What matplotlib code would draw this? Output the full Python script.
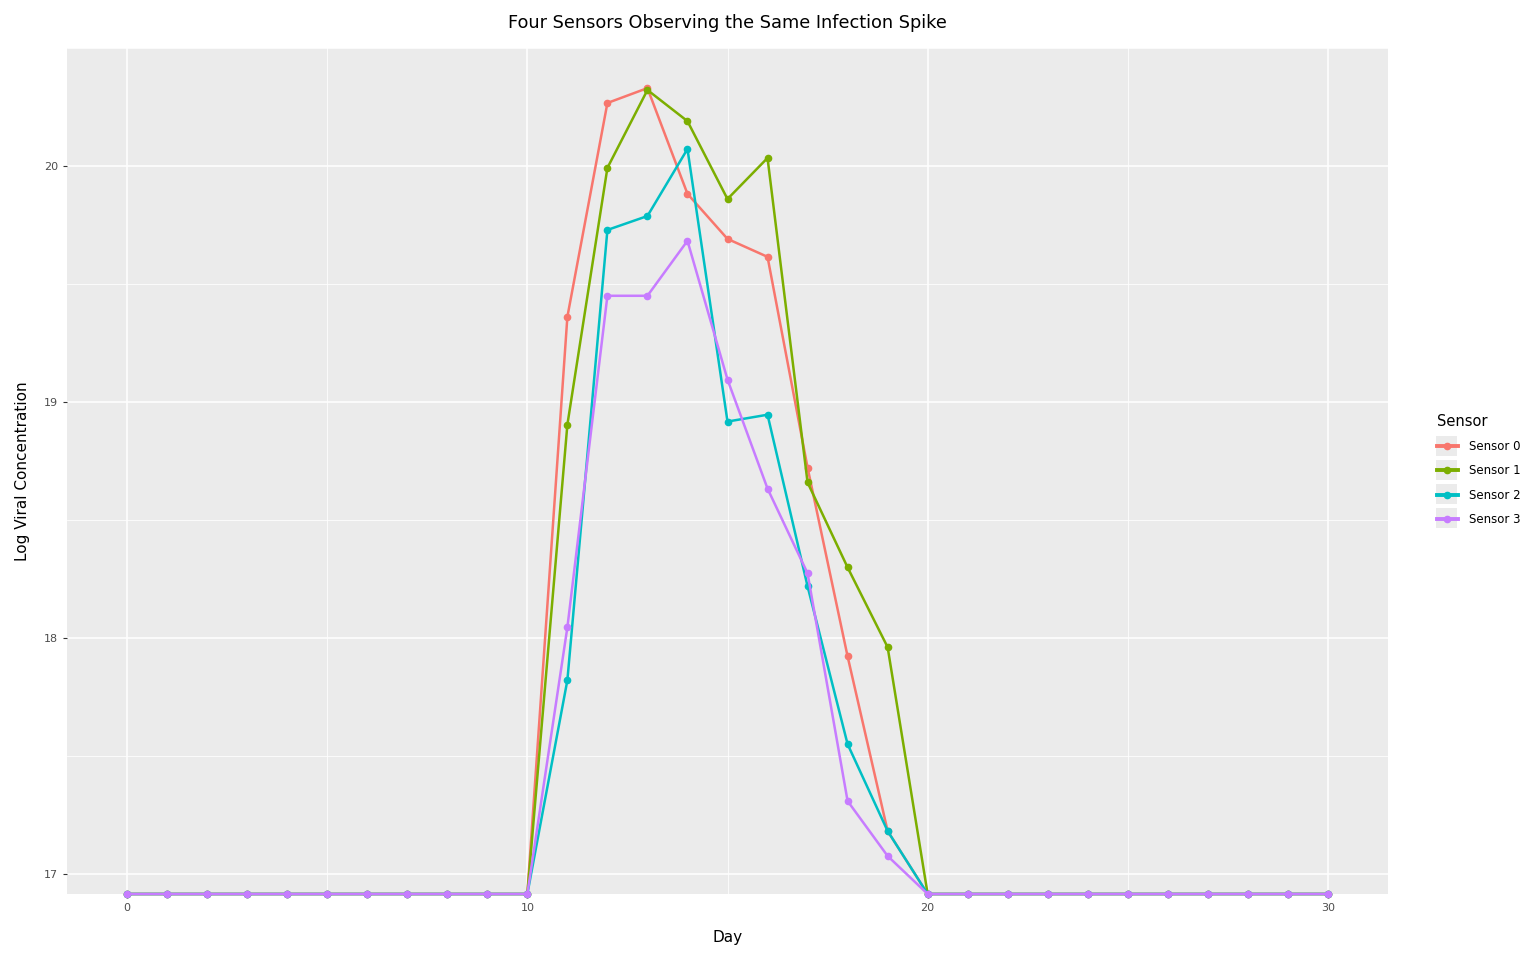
import matplotlib
matplotlib.use("Agg")
import matplotlib.pyplot as plt
from matplotlib.patches import Rectangle
from matplotlib.ticker import MultipleLocator

days = list(range(31))
baseline = 16.915
sensor_names = ["Sensor 0", "Sensor 1", "Sensor 2", "Sensor 3"]
colors = ["#F8766D", "#7CAE00", "#00BFC4", "#C77CFF"]

spike_s0 = [19.361, 20.267, 20.330, 19.882, 19.691, 19.615, 18.722, 17.922, 17.182]
spike_s1 = [18.904, 19.992, 20.322, 20.190, 19.860, 20.034, 18.659, 18.299, 17.961]
spike_s2 = [17.821, 19.729, 19.788, 20.072, 18.917, 18.946, 18.219, 17.550, 17.182]
spike_s3 = [18.045, 19.450, 19.450, 19.683, 19.095, 18.633, 18.274, 17.309, 17.076]

def full(spike):
    return [baseline] * 11 + spike + [baseline] * 11

series = [full(spike_s0), full(spike_s1), full(spike_s2), full(spike_s3)]

fig = plt.figure(figsize=(15.36, 9.6), dpi=100)
ax = fig.add_axes([67/1536, 1-894/960, (1388-67)/1536, (894-48)/960])
ax.set_facecolor("#EBEBEB")
for s in ax.spines.values():
    s.set_visible(False)

ax.xaxis.set_major_locator(MultipleLocator(10))
ax.xaxis.set_minor_locator(MultipleLocator(5))
ax.yaxis.set_major_locator(MultipleLocator(1))
ax.yaxis.set_minor_locator(MultipleLocator(0.5))
ax.grid(which="major", color="white", linewidth=1.1)
ax.grid(which="minor", color="white", linewidth=0.55)
ax.set_axisbelow(True)
ax.tick_params(which="major", length=3, color="#333333", labelcolor="#4D4D4D", labelsize=8, width=0.8)
ax.tick_params(which="minor", length=0)

handles = []
for name, ys, c in zip(sensor_names, series, colors):
    h, = ax.plot(days, ys, color=c, linewidth=1.8, marker="o", markersize=4.5, label=name, clip_on=False)
    handles.append(h)

ax.set_xlim(-1.5, 31.5)
ax.set_ylim(16.915, 20.50)

ax.set_xlabel("Day", fontsize=11, labelpad=12)
ax.set_ylabel("Log Viral Concentration", fontsize=11, labelpad=10)
fig.text(727/1536, 1-23/960, "Four Sensors Observing the Same Infection Spike", ha="center", va="center", fontsize=12.75)

# legend key backgrounds
for i in range(4):
    fig.patches.append(Rectangle((1436/1536, 1-(456+24*i)/960), 21/1536, 20/960,
                                 transform=fig.transFigure, facecolor="#EBEBEB", edgecolor="none", zorder=0))
leg = fig.legend(handles=handles, loc="upper left", bbox_to_anchor=(1432/1536, 1-409/960),
                 frameon=False, title="Sensor", fontsize=8.5, title_fontsize=10.5,
                 handlelength=1.8, handletextpad=0.9, labelspacing=0.96, alignment="left",
                 borderaxespad=0.0)
for lh in leg.legend_handles:
    lh.set_linewidth(2.8)

fig.savefig("out.png", dpi=100)
